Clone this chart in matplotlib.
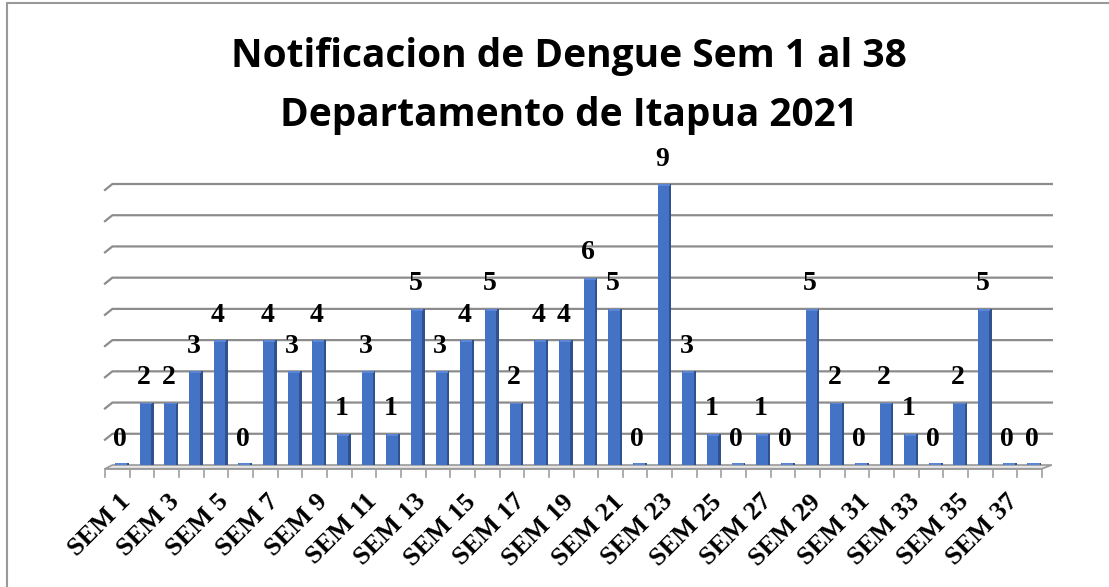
import numpy as np
import matplotlib.pyplot as plt
from matplotlib.patches import Polygon, Rectangle

# Weekly dengue notifications (SEM 1 .. SEM 38)
semanas = ["SEM %d" % i for i in range(1, 39)]
casos = [0, 2, 2, 3, 4, 0, 4, 3, 4, 1, 3, 1, 5, 3, 4, 5, 2, 4, 4, 6,
         5, 0, 9, 3, 1, 0, 1, 0, 5, 2, 0, 2, 1, 0, 2, 5, 0, 0]
grid_vals = list(range(0, 10))

titulo = "Notificacion de Dengue Sem 1 al 38\nDepartamento de Itapua 2021"

W, H = 1109, 587
fig = plt.figure(figsize=(W / 100, H / 100), dpi=100)
fig.patches.append(Rectangle((7 / W, -0.01), 1.1, (H - 3) / H + 0.01, transform=fig.transFigure,
                             fill=False, edgecolor="#999999", linewidth=1.5))

ax = fig.add_axes([105 / W, 122 / H, 937 / W, 281 / H])
ax.set_xlim(-0.5, 37.5)
ax.set_ylim(0, 9)
for s in ax.spines.values():
    s.set_visible(False)
ax.set_yticks([])

x = np.arange(len(casos))
vals = np.array(casos, dtype=float)

# gridlines with a small slanted left end (pseudo 3D back wall)
dx = 0.3
for g in grid_vals[1:]:
    ax.plot([-0.5, -0.5 + dx, 37.9], [g - 0.19, g, g], color="#8c8c8c",
            linewidth=1.6, clip_on=False, zorder=1)

# floor slab
floor = Polygon([(-0.5, -0.12), (-0.5 + dx, 0.0), (37.9, 0.0), (37.5, -0.12)],
                closed=True, facecolor="#e6e6e6", edgecolor="#9a9a9a", linewidth=1.2,
                clip_on=False, zorder=1)
ax.add_patch(floor)
ax.plot([-0.5, 37.5], [-0.12, -0.12], color="#9a9a9a", linewidth=1.2, clip_on=False, zorder=2)

# category ticks below floor
for b in np.arange(-0.5, 38.0, 1.0):
    ax.plot([b, b], [-0.12, -0.4], color="#a0a0a0", linewidth=1.2, clip_on=False, zorder=2)

# bars: front face + darker side + lighter top
bw = 0.46
off = 0.14
h = np.maximum(vals, 0.06)
ax.bar(x + off, h, width=bw, color="#4472c4", zorder=3, linewidth=0)
ax.bar(x + off + bw / 2 + 0.05, h, width=0.1, color="#2f528f", zorder=3, linewidth=0)
ax.bar(x + off + 0.03, 0.06, bottom=h - 0.06, width=bw, color="#5b86d6", zorder=4, linewidth=0)

# value labels
for xi, v in zip(x, casos):
    ax.annotate(str(v), (xi + off * 0.6, v), xytext=(0, 9), textcoords="offset points",
                ha="center", va="bottom", fontsize=20, fontweight="bold",
                family="Liberation Serif", color="black", annotation_clip=False)

# x tick labels (odd weeks only)
ax.set_xticks(x[::2] + 0.05)
ax.set_xticklabels(semanas[::2], rotation=45, ha="right", rotation_mode="anchor",
                   fontsize=19, fontweight="bold", family="Liberation Serif")
ax.tick_params(axis="x", length=0, pad=18)

fig.text(0.513, 1 - 37 / H, titulo, ha="center", va="top", fontsize=28,
         fontweight="bold", family="Open Sans", linespacing=1.66)

fig.savefig("out.png", dpi=100)
